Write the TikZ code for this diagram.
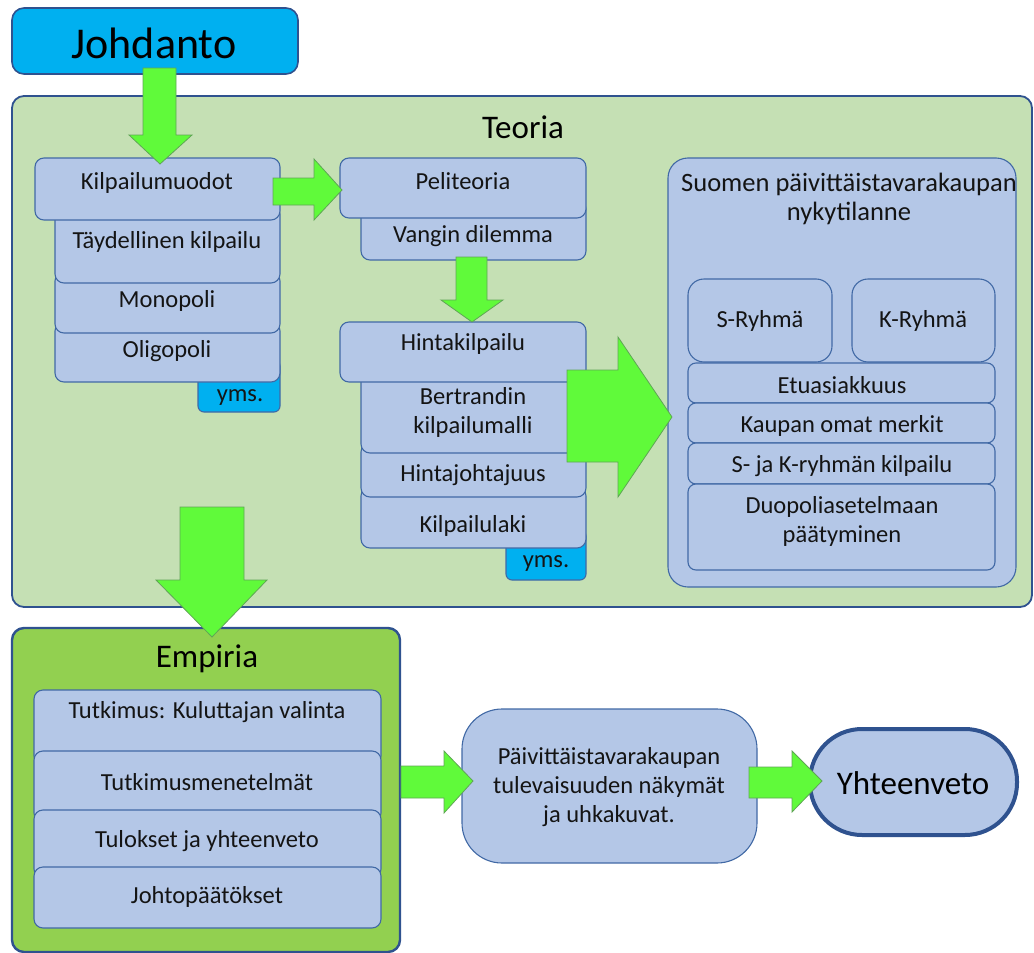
\documentclass[tikz,border=0pt]{standalone}
\usepackage{fontspec}
\setmainfont{Carlito}
\definecolor{boxblue}{RGB}{180,199,231}
\definecolor{edgeblue}{RGB}{65,105,165}
\definecolor{darkedge}{RGB}{47,82,143}
\definecolor{cyanfill}{RGB}{0,176,240}
\definecolor{teoriagreen}{RGB}{197,224,180}
\definecolor{empiriagreen}{RGB}{146,208,80}
\definecolor{arrowgreen}{RGB}{96,250,58}
\definecolor{arrowedge}{RGB}{95,165,85}
\definecolor{txtcol}{RGB}{20,20,20}
\newcommand\mkbox[6]{\node[#6, anchor=north west, inner sep=0pt, outer sep=0pt, minimum width=#4-#2, minimum height=#5-#3] (#1) at (#2,#3) {};}
\tikzset{
  base/.style={draw=edgeblue, line width=1.1pt},
  sbox/.style={base, fill=boxblue, rounded corners=9pt},
  ybox/.style={base, fill=cyanfill, rounded corners=6pt},
  txt/.style={text=txtcol, font=\fontsize{24.5}{29}\selectfont, align=center, inner sep=0pt},
  blockarrow/.style={fill=arrowgreen, draw=arrowedge, line width=0.8pt, line join=miter},
}
\begin{document}
\begin{tikzpicture}[x=1pt,y=-1pt]
\useasboundingbox (0,0) rectangle (1034,953);
% Johdanto
\mkbox{joh}{12}{8}{298}{74}{base, fill=cyanfill, rounded corners=12pt, draw=darkedge, line width=1.6pt}
\node[txt, font=\fontsize{44}{48}\selectfont, text=black] (tjoh) at (154,43) {Johdanto};
% Teoria
\mkbox{teo}{12}{96}{1032}{607}{base, fill=teoriagreen, rounded corners=12pt, draw=darkedge, line width=1.8pt}
\node[txt, font=\fontsize{33}{36}\selectfont, text=black] (tteo) at (523,127) {Teoria};
% column 1
\mkbox{yms1}{198}{360}{280}{412}{ybox}
\mkbox{olig}{55}{322}{280}{382}{sbox}
\mkbox{mono}{55}{272}{280}{333}{sbox}
\mkbox{tayd}{55}{205}{280}{283}{sbox}
\mkbox{kilp}{35}{158}{280}{220}{sbox}
\node[txt] (tkilp) at (157,183) {Kilpailumuodot};
\node[txt] (ttayd) at (167,242) {Täydellinen kilpailu};
\node[txt] (tmono) at (167,301) {Monopoli};
\node[txt] (tolig) at (167,351) {Oligopoli};
\node[txt] (tyms1) at (240,398) {yms.};
% column 2
\mkbox{vang}{361}{200}{586}{260}{sbox}
\mkbox{peli}{340}{158}{586}{218}{sbox}
\node[txt] (tpeli) at (463,181) {Peliteoria};
\node[txt] (tvang) at (473,236) {Vangin dilemma};
\mkbox{yms2}{506}{530}{586}{580}{ybox}
\mkbox{laki}{361}{487}{586}{548}{sbox}
\mkbox{hjoh}{361}{443}{586}{497}{sbox}
\mkbox{bert}{361}{370}{586}{453}{sbox}
\mkbox{hint}{340}{322}{586}{382}{sbox}
\node[txt] (thint) at (463,344) {Hintakilpailu};
\node[txt] (tbert) at (473,412) {Bertrandin\\kilpailumalli};
\node[txt] (thjoh) at (473,475) {Hintajohtajuus};
\node[txt] (tlaki) at (473,526) {Kilpailulaki};
\node[txt] (tyms2) at (546,564) {yms.};
% column 3
\mkbox{suom}{668}{158}{1016}{587}{sbox, rounded corners=20pt}
\node[txt, font=\fontsize{26.5}{28.5}\selectfont] (tsuom) at (849,199) {Suomen päivittäistavarakaupan\\nykytilanne};
\mkbox{sryh}{688}{279}{832}{362}{sbox, rounded corners=16pt}
\mkbox{kryh}{852}{279}{995}{362}{sbox, rounded corners=16pt}
\node[txt] (tsryh) at (760,321) {S-Ryhmä};
\node[txt] (tkryh) at (923,321) {K-Ryhmä};
\mkbox{etua}{688}{363}{995}{403}{sbox, rounded corners=8pt}
\mkbox{kaup}{688}{403}{995}{443}{sbox, rounded corners=8pt}
\mkbox{skry}{688}{443}{995}{484}{sbox, rounded corners=8pt}
\mkbox{duop}{688}{484}{995}{570}{sbox, rounded corners=8pt}
\node[txt] (tetua) at (842,385) {Etuasiakkuus};
\node[txt] (tkaup) at (842,426) {Kaupan omat merkit};
\node[txt] (tskry) at (842,466) {S- ja K-ryhmän kilpailu};
\node[txt] (tduop) at (842,521) {Duopoliasetelmaan\\päätyminen};
% Empiria
\mkbox{emp}{12}{628}{400}{952}{base, fill=empiriagreen, rounded corners=12pt, draw=darkedge, line width=2.4pt}
\node[txt, font=\fontsize{33}{36}\selectfont, text=black] (temp) at (207,659) {Empiria};
\mkbox{tutk}{34}{690}{381}{765}{sbox}
\mkbox{menet}{34}{751}{381}{822}{sbox}
\mkbox{tulo}{34}{810}{381}{878}{sbox}
\mkbox{johto}{34}{867}{381}{928}{sbox}
\node[txt] (ttutk) at (207,712) {Tutkimus: Kuluttajan valinta};
\node[txt] (tmenet) at (207,782) {Tutkimusmenetelmät};
\node[txt] (ttulo) at (207,841) {Tulokset ja yhteenveto};
\node[txt] (tjohto) at (207,897) {Johtopäätökset};
% Future and summary
\mkbox{paiv}{462}{709}{757}{863}{sbox, rounded corners=40pt}
\node[txt] (tpaiv) at (609,787) {Päivittäistavarakaupan\\tulevaisuuden näkymät\\ja uhkakuvat.};
\mkbox{yht}{810}{729}{1017}{835}{base, fill=boxblue, rounded corners=52pt, draw=darkedge, line width=4pt}
\node[txt, font=\fontsize{33}{36}\selectfont, text=black] (tyht) at (913,783) {Yhteenveto};
% block arrows
\draw[blockarrow] (143,68) -- (176,68) -- (176,135) -- (192,135) -- (160,164) -- (129,135) -- (143,135) -- cycle;
\draw[blockarrow] (273,178) -- (314,178) -- (314,159) -- (342,190) -- (314,220) -- (314,205) -- (273,205) -- cycle;
\draw[blockarrow] (456,257) -- (487,257) -- (487,300) -- (503,300) -- (472,322) -- (441,300) -- (456,300) -- cycle;
\draw[blockarrow] (567,370) -- (618,370) -- (618,337) -- (672,417) -- (618,497) -- (618,462) -- (567,462) -- cycle;
\draw[blockarrow] (180,507) -- (244,507) -- (244,580) -- (267,580) -- (212,637) -- (156,580) -- (180,580) -- cycle;
\draw[blockarrow] (401,766) -- (444,766) -- (444,751) -- (473,781) -- (444,813) -- (444,798) -- (401,798) -- cycle;
\draw[blockarrow] (749,767) -- (792,767) -- (792,751) -- (822,781) -- (792,812) -- (792,798) -- (749,798) -- cycle;
\end{tikzpicture}
\end{document}
